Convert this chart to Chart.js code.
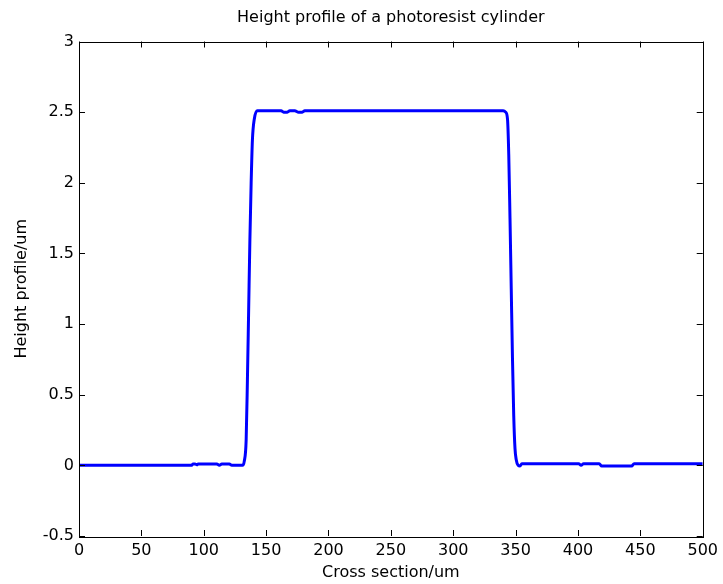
<!DOCTYPE html>
<html>
<head>
<meta charset="utf-8">
<title>Height profile</title>
<script src="https://cdn.jsdelivr.net/npm/chart.js@4.4.1/dist/chart.umd.min.js"></script>
<style>
  html, body { margin: 0; padding: 0; background: #fff; }
  #wrap { width: 723px; height: 584px; }
</style>
</head>
<body>
<div id="wrap"><canvas id="profileChart" width="723" height="584"></canvas></div>
<script>
// cross-section position (um) and measured height (um)
const crossSection = [
  0, 90, 91.5, 93, 94.5, 95.5, 97, 110.5, 112.5, 114.5, 120.5, 122.5,
  131, 132.5, 134, 135, 136, 137, 138, 139, 140.5, 143,
  162, 164, 167, 169, 173, 176, 179, 181,
  340, 342, 343.5, 344.5, 345.5, 346.5, 347.5, 348.5, 349.5, 350.5, 352, 353.5, 355,
  400.5, 402.5, 404.5, 417, 419, 443, 445, 500
];
const heightProfile = [
  0, 0, 0.01, 0.01, 0.004, 0.01, 0.01, 0.01, 0.0, 0.01, 0.01, 0,
  0, 0.03, 0.18, 0.6, 1.1, 1.6, 2.0, 2.3, 2.45, 2.51,
  2.51, 2.50, 2.50, 2.51, 2.51, 2.50, 2.50, 2.51,
  2.51, 2.5, 2.45, 2.2, 1.75, 1.25, 0.75, 0.35, 0.12, 0.04, 0.0, -0.005, 0.012,
  0.012, 0.0, 0.012, 0.012, -0.005, -0.005, 0.012, 0.012
];

const xTicks = [0, 50, 100, 150, 200, 250, 300, 350, 400, 450, 500];
const yTicks = [-0.5, 0, 0.5, 1, 1.5, 2, 2.5, 3];

const FONT = { family: '"DejaVu Sans", Arial, sans-serif', size: 16, lineHeight: 1.2 };
const TITLE = 'Height profile of a photoresist cylinder';
const TICK_LEN = 6;

// box frame with inward ticks on all four sides, title centred over the axes
const frameTicks = {
  id: 'frameTicks',
  afterDraw(chart) {
    const { ctx, chartArea: a, scales } = chart;
    ctx.save();
    ctx.strokeStyle = '#000';
    ctx.lineWidth = 1;
    ctx.beginPath();
    xTicks.forEach(v => {
      const px = Math.round(scales.x.getPixelForValue(v)) + 0.5;
      ctx.moveTo(px, a.bottom); ctx.lineTo(px, a.bottom - TICK_LEN);
      ctx.moveTo(px, a.top); ctx.lineTo(px, a.top + TICK_LEN);
    });
    yTicks.forEach(v => {
      const py = Math.round(scales.y.getPixelForValue(v)) + 0.5;
      ctx.moveTo(a.left, py); ctx.lineTo(a.left + TICK_LEN, py);
      ctx.moveTo(a.right, py); ctx.lineTo(a.right - TICK_LEN, py);
    });
    ctx.stroke();
    ctx.strokeRect(Math.round(a.left) + 0.5, Math.round(a.top) + 0.5,
      Math.round(a.right - a.left), Math.round(a.bottom - a.top));

    ctx.fillStyle = '#000';
    ctx.font = `${FONT.size}px ${FONT.family}`;
    ctx.textAlign = 'center';
    ctx.textBaseline = 'middle';
    ctx.fillText(TITLE, (a.left + a.right) / 2, 18);
    ctx.restore();
  }
};

const points = crossSection.map((x, i) => ({ x: x, y: heightProfile[i] }));

new Chart(document.getElementById('profileChart'), {
  type: 'line',
  data: {
    datasets: [{
      data: points,
      borderColor: '#0000ff',
      borderWidth: 3,
      pointRadius: 0,
      fill: false,
      cubicInterpolationMode: 'monotone'
    }]
  },
  options: {
    responsive: false,
    animation: false,
    layout: { padding: { top: 41.5, left: 0, right: 18, bottom: 0 } },
    plugins: {
      legend: { display: false },
      tooltip: { enabled: false },
      title: { display: false }
    },
    scales: {
      x: {
        type: 'linear',
        min: 0, max: 500,
        afterFit(scale) { scale.height = 48; },
        afterBuildTicks(scale) { scale.ticks = xTicks.map(v => ({ value: v })); },
        grid: { display: false, drawTicks: false },
        border: { display: false },
        ticks: { color: '#000', font: FONT, padding: 5, maxRotation: 0, autoSkip: false },
        title: {
          display: true, text: 'Cross section/um', color: '#000', font: FONT,
          padding: { top: 0, bottom: 1.5 }
        }
      },
      y: {
        type: 'linear',
        min: -0.5, max: 3,
        afterFit(scale) { scale.width = 79; },
        afterBuildTicks(scale) { scale.ticks = yTicks.map(v => ({ value: v })); },
        grid: { display: false, drawTicks: false },
        border: { display: false },
        ticks: { color: '#000', font: FONT, padding: 5, autoSkip: false, callback: v => String(v) },
        title: {
          display: true, text: 'Height profile/um', color: '#000', font: FONT,
          padding: { top: 12, bottom: 0 }
        }
      }
    }
  },
  plugins: [frameTicks]
});
</script>
</body>
</html>
